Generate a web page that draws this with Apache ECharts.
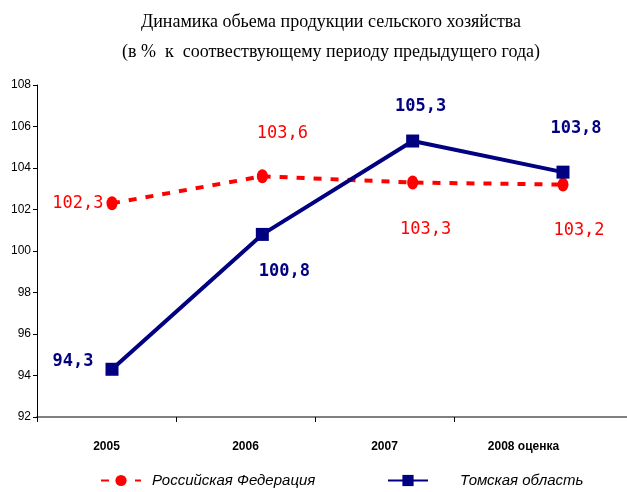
<!DOCTYPE html>
<html>
<head>
<meta charset="utf-8">
<script src="https://cdn.jsdelivr.net/npm/echarts@6/dist/echarts.min.js"></script>
<style>
  html, body { margin: 0; padding: 0; background: #fff; }
  #main { width: 627px; height: 492px; }
</style>
</head>
<body>
<div id="main"></div>
<script>
// данные
var years = ["2005", "2006", "2007", "2008 оценка"];
var russia = [102.3, 103.6, 103.3, 103.2];
var tomsk = [94.3, 100.8, 105.3, 103.8];
var yTicks = [92, 94, 96, 98, 100, 102, 104, 106, 108];

var narrow = "'Liberation Sans Narrow', 'Liberation Sans', Arial, sans-serif";
var mono = "'DejaVu Sans Mono', monospace";

// положения подписей для каждой точки
var redLabels = [
  { position: "left", distance: 3 },
  { position: "top", distance: 27, offset: [20, 0] },
  { position: "bottom", distance: 32, offset: [13, 0] },
  { position: "bottom", distance: 30, offset: [16, 0] }
];
var blueLabels = [
  { position: "left", distance: 12, offset: [0, -8] },
  { position: "bottom", distance: 22, offset: [22, 0] },
  { position: "top", distance: 19, offset: [8, 0] },
  { position: "top", distance: 29, offset: [13, 0] }
];

function items(values, labels) {
  return values.map(function (v, i) {
    return { value: v, label: labels[i] };
  });
}
function fmt(p) {
  return String(p.value).replace(".", ",");
}

var chart = echarts.init(document.getElementById("main"));
chart.setOption({
  animation: false,
  title: {
    text: "Динамика обьема продукции сельского хозяйства\n(в %  к  соотвествующему периоду предыдущего года)",
    left: 326,
    top: 2,
    textAlign: "center",
    textStyle: {
      fontFamily: "'Liberation Serif', 'Times New Roman', serif",
      fontWeight: "normal",
      fontSize: 18,
      lineHeight: 30,
      color: "#000"
    }
  },
  legend: [
    {
      top: 468,
      left: 95,
      itemWidth: 40,
      itemHeight: 14,
      textStyle: {
        fontFamily: narrow,
        fontStyle: "italic",
        fontSize: 15,
        color: "#000",
        padding: [0, 0, 0, 6]
      },
      data: ["Российская Федерация"]
    },
    {
      top: 468,
      left: 382,
      itemWidth: 40,
      itemHeight: 14,
      textStyle: {
        fontFamily: narrow,
        fontStyle: "italic",
        fontSize: 15,
        color: "#000",
        padding: [0, 0, 0, 27]
      },
      data: ["Томская область"]
    }
  ],
  grid: [
    { left: 37, right: 34, top: 85, bottom: 75 },
    { left: 37, right: 0, top: 85, bottom: 75 },
    { left: 112, right: 64, top: 85, bottom: 75 },
    { left: 37, right: 173, top: 85, bottom: 75 }
  ],
  xAxis: [
    {
      // подписи годов
      gridIndex: 0,
      type: "category",
      data: years,
      boundaryGap: true,
      axisLine: { show: false },
      axisTick: { show: false },
      axisLabel: {
        margin: 24,
        fontFamily: narrow,
        fontWeight: "bold",
        fontSize: 12,
        color: "#000"
      }
    },
    {
      // серая линия оси
      gridIndex: 1,
      type: "category",
      data: years,
      axisLine: { show: true, lineStyle: { color: "#808080", width: 2 } },
      axisTick: { show: false },
      axisLabel: { show: false }
    },
    {
      // шкала для рядов
      gridIndex: 2,
      type: "category",
      data: years,
      boundaryGap: false,
      show: false
    },
    {
      // засечки между годами
      gridIndex: 3,
      type: "value",
      min: 0,
      max: 3,
      interval: 1,
      axisLine: { show: false },
      axisTick: { show: true, length: 5, lineStyle: { color: "#000" } },
      axisLabel: { show: false },
      splitLine: { show: false }
    }
  ],
  yAxis: [
    {
      gridIndex: 0,
      type: "value",
      min: yTicks[0],
      max: yTicks[yTicks.length - 1],
      interval: 2,
      axisLine: { show: true, lineStyle: { color: "#000", width: 1 } },
      axisTick: { show: true, length: 4, lineStyle: { color: "#000" } },
      splitLine: { show: false },
      axisLabel: {
        margin: 6,
        fontFamily: narrow,
        fontSize: 12,
        color: "#000"
      },
      z: 5
    },
    { gridIndex: 1, type: "value", min: 92, max: 108, show: false },
    { gridIndex: 2, type: "value", min: 92, max: 108, show: false },
    { gridIndex: 3, type: "value", min: 92, max: 108, show: false }
  ],
  series: [
    {
      name: "Российская Федерация",
      type: "line",
      xAxisIndex: 2,
      yAxisIndex: 2,
      data: items(russia, redLabels),
      symbol: "circle",
      symbolSize: [11, 14],
      color: "#ff0000",
      lineStyle: { color: "#ff0000", width: 4, type: [8, 9] },
      itemStyle: { color: "#ff0000" },
      label: {
        show: true,
        formatter: fmt,
        fontFamily: mono,
        fontSize: 17,
        color: "#ff0000"
      },
      z: 3
    },
    {
      name: "Томская область",
      type: "line",
      xAxisIndex: 2,
      yAxisIndex: 2,
      data: items(tomsk, blueLabels),
      symbol: "rect",
      symbolSize: 13,
      color: "#000080",
      lineStyle: { color: "#000080", width: 4 },
      itemStyle: { color: "#000080" },
      label: {
        show: true,
        formatter: fmt,
        fontFamily: mono,
        fontWeight: "bold",
        fontSize: 17,
        color: "#000080"
      },
      z: 4
    }
  ]
});
</script>
</body>
</html>
